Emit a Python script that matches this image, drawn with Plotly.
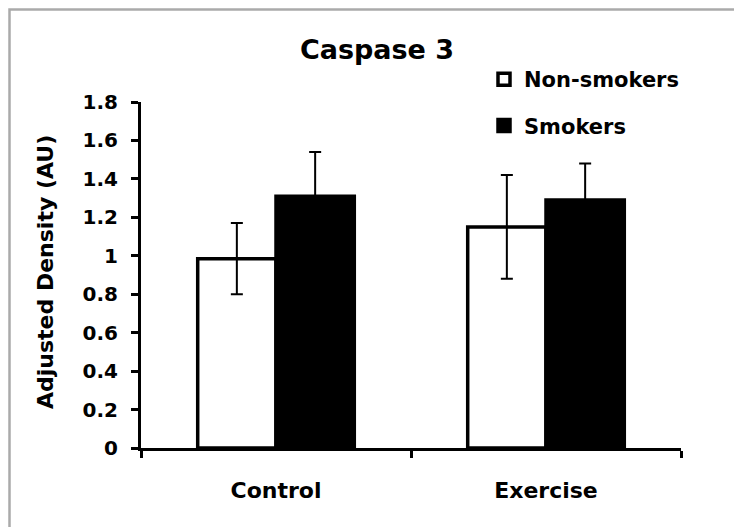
import plotly.graph_objects as go

categories = ["Control", "Exercise"]
nonsmokers = [0.985, 1.15]
nonsmokers_err = [0.185, 0.27]
smokers = [1.31, 1.29]
smokers_err = [0.23, 0.19]
series_names = ["Non-smokers", "Smokers"]
y_ticks = [0, 0.2, 0.4, 0.6, 0.8, 1, 1.2, 1.4, 1.6, 1.8]

FONT = "DejaVu Sans"
OFF = 8  # page body margin
W, H = 742 - OFF, 527 - OFF
ML = 141 - OFF
MT = 102 - OFF
PLOT_R = 681 - OFF
PLOT_B = 448 - OFF
MR = W - PLOT_R
MB = H - PLOT_B
PW, PH = PLOT_R - ML, PLOT_B - MT

def px_x(p):
    return (p - OFF - ML) / PW

def px_y(p):
    return (PLOT_B - (p - OFF)) / PH

fig = go.Figure()
fig.add_trace(go.Bar(
    x=categories, y=nonsmokers, name=series_names[0], legendgroup="a",
    marker=dict(color="white", line=dict(color="black", width=3.5)),
    error_y=dict(type="data", array=nonsmokers_err, color="black", thickness=2, width=6),
))
fig.add_trace(go.Bar(
    x=categories, y=smokers, name=series_names[1], legendgroup="b",
    marker=dict(color="black", line=dict(color="black", width=3.5)),
    error_y=dict(type="data", array=smokers_err, color="black", thickness=2, width=6),
))

fig.update_layout(
    width=W, height=H,
    margin=dict(l=ML, r=MR, t=MT, b=MB, autoexpand=False),
    paper_bgcolor="white", plot_bgcolor="white",
    barmode="group", bargap=0.42, bargroupgap=0,
    font=dict(family=FONT, color="black"),
    title=dict(text="<b>Caspase 3</b>", font=dict(size=27, family=FONT, color="black"),
               x=px_x(377), xref="paper", xanchor="center",
               y=1 - (50 - OFF) / H, yref="container", yanchor="middle"),
    showlegend=True,
    legend=dict(x=px_x(484), xanchor="left", y=px_y(59), yanchor="top",
                font=dict(size=21, family=FONT, color="black", weight="bold"),
                traceorder="grouped", tracegroupgap=16,
                bgcolor="rgba(0,0,0,0)", borderwidth=0),
    xaxis=dict(showline=True, linecolor="black", linewidth=3,
               ticks="outside", tickson="boundaries", ticklen=7, tickwidth=3, tickcolor="black",
               tickfont=dict(size=22, family=FONT, color="black", weight="bold"),
               ticklabelstandoff=21, showgrid=False, zeroline=False,
               range=[-0.5, 1.5], fixedrange=True),
    yaxis=dict(showline=True, linecolor="black", linewidth=3,
               ticks="outside", ticklen=7, tickwidth=3, tickcolor="black",
               tickvals=y_ticks, ticktext=[("%g" % v) for v in y_ticks],
               tickfont=dict(size=20, family=FONT, color="black", weight="bold"),
               ticklabelstandoff=9, showgrid=False, zeroline=False,
               range=[0, 1.8], fixedrange=True),
    annotations=[dict(text="<b>Adjusted Density (AU)</b>", textangle=-90,
                      xref="paper", yref="paper", x=px_x(45), y=px_y(272),
                      xanchor="center", yanchor="middle", showarrow=False,
                      font=dict(size=22, family=FONT, color="black"))],
    shapes=[dict(type="rect", xref="paper", yref="paper",
                 x0=px_x(9.5), x1=px_x(770), y0=px_y(9.5), y1=px_y(560),
                 line=dict(color="#aaaaaa", width=2.5), fillcolor="rgba(0,0,0,0)",
                 layer="below")],
)

fig.write_html("out.html")
